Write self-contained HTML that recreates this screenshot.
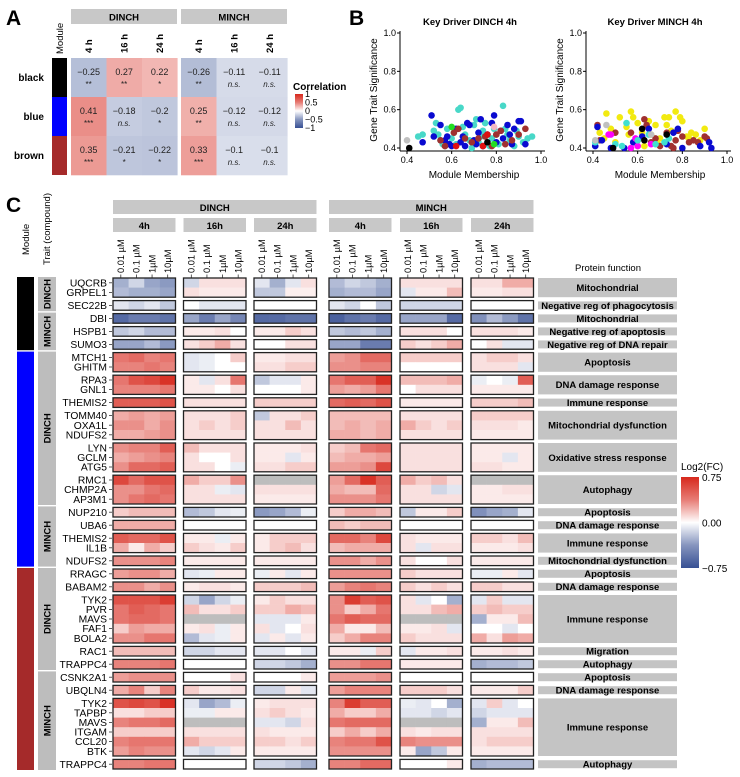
<!DOCTYPE html>
<html><head><meta charset="utf-8">
<style>
html,body{margin:0;padding:0;background:#fff;}
svg{display:block;font-family:"Liberation Sans",Arial,sans-serif;}
</style></head>
<body>
<svg id="fig" width="740" height="777" viewBox="0 0 740 777" xmlns="http://www.w3.org/2000/svg">
<text x="6" y="25" font-size="21" font-weight="bold">A</text>
<text x="349" y="25" font-size="21" font-weight="bold">B</text>
<text x="6" y="212" font-size="21" font-weight="bold">C</text>
<g id="pa"></g>
<g id="pb"></g>
<g id="pc"></g>
</svg>
<script>
// ---------- Panel A data ----------
const aModules = ['black','blue','brown'];
const aModuleColors = ['#000000','#0000ff','#a52a2a'];
const aTimes = ['4 h','16 h','24 h'];
const aCompounds = ['DINCH','MINCH'];
const aCorr = [[-0.25,0.27,0.22,-0.26,-0.11,-0.11],[0.41,-0.18,-0.2,0.25,-0.12,-0.12],[0.35,-0.21,-0.22,0.33,-0.1,-0.1]];
const aSig = [['**','**','*','**','n.s.','n.s.'],['***','n.s.','*','**','n.s.','n.s.'],['***','*','*','***','n.s.','n.s.']];
const aLegendTicks = [1,0.5,0,-0.5,-1];

// ---------- Panel B data ----------
const bAxisTicks = [0.4,0.6,0.8,1.0];
const dTurq = [[0.45,0.46],[0.47,0.47],[0.52,0.49],[0.53,0.53],[0.55,0.44],[0.56,0.42],[0.58,0.5],[0.6,0.45],[0.62,0.42],[0.63,0.6],[0.64,0.61],[0.66,0.47],[0.68,0.44],[0.7,0.52],[0.71,0.55],[0.72,0.43],[0.74,0.49],[0.75,0.53],[0.77,0.41],[0.78,0.45],[0.8,0.47],[0.81,0.42],[0.83,0.62],[0.84,0.5],[0.86,0.44],[0.88,0.41],[0.9,0.46],[0.92,0.43],[0.94,0.45],[0.96,0.46],[0.57,0.41],[0.65,0.51],[0.73,0.46],[0.79,0.5],[0.85,0.47],[0.61,0.48],[0.69,0.4],[0.76,0.42],[0.89,0.49],[0.54,0.47]];
const dBlue = [[0.47,0.43],[0.51,0.57],[0.52,0.46],[0.55,0.52],[0.57,0.44],[0.59,0.42],[0.6,0.41],[0.62,0.5],[0.64,0.43],[0.65,0.46],[0.67,0.53],[0.68,0.52],[0.7,0.44],[0.71,0.42],[0.73,0.55],[0.74,0.41],[0.76,0.47],[0.78,0.53],[0.79,0.57],[0.8,0.43],[0.82,0.49],[0.83,0.45],[0.85,0.52],[0.87,0.42],[0.88,0.5],[0.9,0.54],[0.91,0.54],[0.93,0.42],[0.66,0.41],[0.72,0.48],[0.58,0.46],[0.86,0.47]];
const dBrown = [[0.55,0.44],[0.57,0.41],[0.61,0.48],[0.63,0.5],[0.66,0.45],[0.69,0.43],[0.72,0.45],[0.75,0.46],[0.78,0.41],[0.8,0.47],[0.82,0.49],[0.84,0.42],[0.87,0.44],[0.9,0.47],[0.93,0.5]];
const dOther = [[0.6,0.51,'#22dd22'],[0.79,0.42,'#22dd22'],[0.62,0.41,'#e01010'],[0.76,0.47,'#e01010'],[0.74,0.41,'#e01010'],[0.79,0.51,'#f4b8c4'],[0.41,0.4,'#000000'],[0.76,0.43,'#000000'],[0.4,0.44,'#c0c0c0']];
const mYellow = [[0.43,0.48],[0.46,0.58],[0.48,0.5],[0.52,0.56],[0.55,0.51],[0.57,0.59],[0.58,0.56],[0.6,0.53],[0.62,0.48],[0.63,0.41],[0.65,0.54],[0.66,0.47],[0.68,0.52],[0.7,0.45],[0.72,0.56],[0.73,0.52],[0.75,0.49],[0.77,0.59],[0.79,0.56],[0.8,0.54],[0.82,0.46],[0.84,0.48],[0.86,0.47],[0.88,0.44],[0.9,0.5],[0.56,0.47],[0.6,0.41],[0.5,0.43],[0.45,0.45],[0.74,0.56],[0.69,0.42],[0.83,0.45]];
const mBrown = [[0.42,0.52],[0.43,0.44],[0.5,0.48],[0.57,0.48],[0.6,0.44],[0.63,0.55],[0.64,0.52],[0.66,0.43],[0.7,0.41],[0.73,0.48],[0.75,0.41],[0.76,0.4],[0.78,0.49],[0.8,0.46],[0.83,0.43],[0.85,0.44],[0.87,0.43],[0.9,0.46],[0.91,0.45],[0.68,0.45],[0.77,0.44]];
const mBlue = [[0.41,0.41],[0.42,0.51],[0.44,0.44],[0.48,0.4],[0.54,0.4],[0.58,0.43],[0.62,0.46],[0.65,0.5],[0.76,0.48],[0.78,0.5],[0.8,0.4],[0.88,0.41],[0.92,0.43],[0.93,0.4],[0.73,0.42]];
const mOther = [[0.47,0.47,'#ff00ff'],[0.48,0.47,'#ff00ff'],[0.57,0.4,'#ff00ff'],[0.59,0.45,'#ff00ff'],[0.66,0.42,'#ff00ff'],[0.6,0.41,'#ff00ff'],[0.41,0.43,'#40e0d0'],[0.5,0.42,'#40e0d0'],[0.53,0.41,'#40e0d0'],[0.55,0.53,'#40e0d0'],[0.6,0.44,'#40e0d0'],[0.65,0.47,'#40e0d0'],[0.68,0.42,'#40e0d0'],[0.72,0.43,'#40e0d0'],[0.74,0.45,'#40e0d0'],[0.62,0.5,'#000000'],[0.63,0.44,'#000000'],[0.73,0.47,'#000000'],[0.49,0.4,'#000000'],[0.41,0.44,'#c0c0c0'],[0.46,0.52,'#c0c0c0'],[0.66,0.47,'#c0c0c0']];

// ---------- Panel C data ----------
const cGenes = ['UQCRB','GRPEL1','SEC22B','DBI','HSPB1','SUMO3','MTCH1','GHITM','RPA3','GNL1','THEMIS2','TOMM40','OXA1L','NDUFS2','LYN','GCLM','ATG5','RMC1','CHMP2A','AP3M1','NUP210','UBA6','THEMIS2','IL1B','NDUFS2','RRAGC','BABAM2','TYK2','PVR','MAVS','FAF1','BOLA2','RAC1','TRAPPC4','CSNK2A1','UBQLN4','TYK2','TAPBP','MAVS','ITGAM','CCL20','BTK','TRAPPC4'];
const cBoxSizes = [2,1,1,1,1,2,2,1,3,3,3,1,1,2,1,1,1,5,1,1,1,1,6,1];
const cFunctions = ['Mitochondrial','Negative reg of phagocytosis','Mitochondrial','Negative reg of apoptosis','Negative reg of DNA repair','Apoptosis','DNA damage response','Immune response','Mitochondrial dysfunction','Oxidative stress response','Autophagy','Apoptosis','DNA damage response','Immune response','Mitochondrial dysfunction','Apoptosis','DNA damage response','Immune response','Migration','Autophagy','Apoptosis','DNA damage response','Immune response','Autophagy'];
const cTraitSegments = [['DINCH',0,1],['MINCH',2,4],['DINCH',5,10],['MINCH',11,14],['DINCH',15,19],['MINCH',20,23]];
const cModuleSegments = [['#000000',0,4],['#0000ff',5,14],['#a52a2a',15,23]];
const cCompounds = ['DINCH','MINCH'];
const cTimes = ['4h','16h','24h'];
const cDoses = ['0.01 \u00b5M','0.1 \u00b5M','1\u00b5M','10\u00b5M'];
const cLegendTicks = [0.75,0,-0.75];
const N = null;
// each row: D4h(4) D16h(4) D24h(4) M4h(4) M16h(4) M24h(4)
const cValues = [
[-.25,-.1,-.3,-.35, -.1,.05,.05,.05, -.05,-.25,-.05,.05, -.2,-.1,-.15,-.25, .05,.05,.05,.05, .05,.05,.2,.2],
[-.2,-.25,-.25,-.3, .05,.03,.03,.03, -.15,-.15,.02,.02, -.25,-.2,-.2,-.3, -.05,.03,.03,.15, .03,.03,.05,.05],
[-.05,-.1,-.05,-.15, 0,-.05,-.05,-.05, 0,0,0,0, -.05,-.1,0,-.15, -.1,-.1,-.1,-.1, 0,0,0,0],
[-.6,-.5,-.5,-.55, -.3,-.5,-.3,-.45, -.6,-.6,-.55,-.55, -.65,-.55,-.5,-.6, -.3,-.3,-.3,-.6, -.4,-.2,-.35,-.55],
[-.15,-.1,-.2,-.2, .03,.03,.05,0, .03,.03,.1,.05, -.15,-.2,-.15,-.25, .05,.05,.05,0, .05,.05,.05,.03],
[-.3,-.3,-.2,-.35, .05,.1,.2,.05, 0,0,.05,.05, -.3,-.3,-.5,-.5, .1,.05,.1,.2, 0,.05,-.05,-.05],
[.4,.45,.35,.4, -.05,-.03,0,.1, .03,.03,.05,.05, .25,.3,.45,.45, .1,.1,.1,.1, .05,.1,.1,.05],
[.35,.35,.4,.35, -.05,-.03,0,0, .05,.05,.1,.1, .3,.3,.35,.35, 0,0,0,0, .05,.05,.05,-.05],
[.4,.55,.6,.7, .03,-.05,.05,.4, -.15,-.05,-.05,.03, .4,.5,.5,.7, .15,.15,.15,.2, -.03,0,-.03,.5],
[.35,.35,.35,.4, .03,.03,0,.05, 0,0,0,.03, .25,.2,.25,.4, 0,.05,.05,.05, .03,.03,.03,.03],
[.5,.5,.5,.55, .05,.05,.05,.05, .1,.1,.1,.1, .45,.5,.45,.55, .03,.03,.03,.03, .1,.1,.1,.15],
[.2,.25,.2,.25, .05,.05,.05,.1, -.15,.05,.05,.1, .15,.15,.15,.15, .05,.05,.05,.05, .1,.1,.1,.1],
[.3,.3,.2,.3, .05,.1,.05,.1, .05,.05,.15,.05, .15,.2,.15,.2, .2,.1,.05,.1, .05,.05,.05,.03],
[.2,.2,.25,.3, .05,.05,.05,.05, .05,.05,.05,.05, .2,.2,.15,.2, .05,.05,.05,.05, .03,.03,.03,.03],
[.3,.35,.35,.5, .15,.05,.05,.05, .03,.03,.03,.05, .1,.15,.4,.45, .05,.05,.05,.05, .03,.03,.03,.03],
[.2,.25,.3,.35, .05,0,0,.05, .03,.03,-.05,.03, .15,.2,.2,.25, .05,.05,.05,.05, .03,.03,-.05,.03],
[.3,.45,.45,.5, .05,.05,0,-.03, .05,.05,.1,.1, .25,.25,.3,.6, .05,.05,.05,.05, .05,.05,.03,.03],
[.6,.45,.55,.55, .2,.1,.1,.3, N,N,N,N, .25,.45,.7,.5, .2,.1,.15,.05, N,N,N,N],
[.3,.3,.4,.45, .05,.05,-.03,-.05, .05,.05,.05,.05, .2,.15,.15,.45, .05,.05,-.1,-.05, .03,.03,.05,.05],
[.3,.4,.45,.4, .05,.05,.05,.05, .03,.03,.03,.03, .3,.3,.3,.4, .05,.05,.05,.05, .03,.03,.03,.03],
[.1,.15,.15,.15, -.2,-.15,-.05,-.03, -.35,-.3,-.2,-.03, .1,.2,.2,.15, -.15,.03,.03,.1, -.4,-.3,-.25,-.05],
[.2,.2,.2,.2, 0,0,0,0, 0,0,0,0, .15,.1,.15,.15, 0,0,0,0, 0,0,0,0],
[.5,.45,.45,.55, .03,.03,-.03,.03, .03,.1,.1,.1, .45,.45,.35,.6, .05,.03,.03,.03, .1,.1,.05,.15],
[.2,.03,.2,.1, .1,.05,.03,.1, .03,.1,.15,.05, .15,.2,.2,.2, .05,-.05,.05,.05, .03,.03,.03,.05],
[.3,.3,.3,.35, .03,.03,.03,.03, .03,.03,.03,.03, .3,.3,.2,.3, .05,0,0,.05, .03,.03,.03,.03],
[.25,.3,.3,.2, -.05,-.03,.03,.03, -.03,.03,-.05,.03, .3,.3,.3,.3, .1,.05,.05,.05, -.03,-.03,.03,-.05],
[.3,.3,.2,.3, .03,.05,.05,.03, .1,.1,.1,.15, .25,.35,.4,.35, .1,.05,.1,.05, .1,.1,.05,.05],
[.55,.55,.55,.65, -.1,-.3,-.1,-.03, .03,.1,.05,.05, .3,.65,.5,.55, .05,-.05,0,-.25, -.05,.1,-.05,-.05],
[.4,.5,.45,.4, .15,.05,.05,.1, .1,.1,.2,.15, .3,.1,.2,.4, .05,.05,.15,.2, .1,.15,.1,.1],
[.4,.45,.45,.4, N,N,N,N, -.05,-.05,-.05,.03, .4,.5,.45,.45, N,N,N,N, -.25,.03,.03,.15],
[.1,.25,.2,.2, .03,.05,-.03,.03, .05,-.05,0,.05, .2,.03,.03,.15, .03,.03,.05,-.05, 0,0,-.05,0],
[.3,.3,.4,.4, -.2,-.05,-.03,.03, -.05,.03,-.05,.03, .1,.2,.35,.35, .1,.05,.05,.05, .2,.05,.25,.2],
[.15,.15,.15,.15, -.1,-.1,-.05,-.05, -.05,-.05,0,-.05, .03,.03,-.03,.1, -.05,.03,.03,.05, .03,.03,.05,.03],
[.35,.35,.35,.4, 0,0,0,0, -.1,-.1,-.15,-.25, .3,.3,.4,.4, .03,.03,.03,.03, -.25,-.2,-.2,-.15],
[.25,.3,.3,.3, 0,0,0,.05, 0,0,0,.03, .25,.25,.25,.3, 0,0,0,0, 0,0,0,0],
[.2,.35,.1,.35, .1,.03,.03,.05, -.1,-.1,.03,-.05, .25,.35,.35,.35, .1,.1,.1,.05, .03,.03,.03,.1],
[.55,.6,.55,.7, -.05,-.3,-.2,-.03, .03,.05,.05,.05, .35,.65,.5,.5, -.03,-.05,0,-.25, -.05,.1,-.05,0],
[.05,.05,.1,.1, -.03,-.03,.03,.03, .05,.1,.05,.03, .2,.1,.1,.2, -.05,-.05,-.1,-.05, -.1,-.05,-.05,-.05],
[.35,.4,.4,.45, N,N,N,N, -.05,-.05,-.1,.05, .4,.45,.45,.45, N,N,N,N, -.25,.03,.03,.15],
[.1,.1,.1,.1, .05,.05,.05,.05, .05,.03,.03,.03, .1,.2,.1,.2, .05,.03,.05,.05, .05,.05,.05,.05],
[.35,.4,.4,.4, .2,.1,.1,.1, .1,.1,.05,.1, .35,.4,.4,.55, .35,.3,.3,.3, .05,.1,.1,.1],
[.25,.35,.3,.3, -.05,-.1,-.05,.03, .03,.03,.03,.03, .3,.3,.3,.3, .03,-.3,-.15,.03, .03,.03,.03,.03],
[.35,.35,.4,.4, 0,0,0,0, -.1,-.1,-.15,-.25, .35,.35,.45,.45, 0,0,0,.03, -.25,-.2,-.2,-.2]
];

const NS='http://www.w3.org/2000/svg';
function mk(tag, attrs, parent, txt){const e=document.createElementNS(NS,tag);for(const k in attrs)e.setAttribute(k,attrs[k]);if(txt!==undefined)e.textContent=txt;parent.appendChild(e);return e;}
function colorFor(v, max){
  if(v===null) return '#bdbdbd';
  let t=Math.max(-1,Math.min(1,v/max));
  const w=[255,255,255], r=[215,40,28], b=[55,80,148];
  const e=t>=0?r:b; const a=Math.pow(Math.abs(t),0.72);
  const c=w.map((x,i)=>Math.round(x+(e[i]-x)*a));
  return 'rgb('+c.join(',')+')';
}

// ================= Panel A =================
(function(){
  const g=document.getElementById('pa');
  const colX=[71,106.5,142,181,216.5,252], cw=35.3, rowY=[58,97,136], rh=39;
  aCompounds.forEach((c,i)=>{
    const x0=i?181:71;
    const s=mk('rect',{x:x0,y:9,width:106,height:15,fill:'#c8c8c8'},g);
     
    const t=mk('text',{x:x0+53,y:20.5,'font-size':9.5,'font-weight':'bold','text-anchor':'middle'},g,c);
     
  });
  const ml=mk('text',{transform:'translate(63,54) rotate(-90)','font-size':9.5},g,'Module');
   
  for(let j=0;j<6;j++){
    const cx=colX[j]+cw/2;
    const t=mk('text',{transform:'translate('+(cx+3.5)+',53) rotate(-90)','font-size':9.5,'font-weight':'bold'},g,aTimes[j%3]);
     
  }
  aModules.forEach((m,i)=>{
    const y=rowY[i];
    const bar=mk('rect',{x:52,y:y,width:15,height:rh,fill:aModuleColors[i]},g);
     
    const lab=mk('text',{x:44,y:y+rh/2+3.5,'font-size':10,'font-weight':'bold','text-anchor':'end'},g,m);
     
    for(let j=0;j<6;j++){
      const v=aCorr[i][j];
      const c=mk('rect',{x:colX[j],y:y,width:cw+0.3,height:rh+0.3,fill:colorFor(v,1)},g);
       
      const cx=colX[j]+cw/2;
      const t=mk('text',{x:cx,y:y+17,'font-size':9,'text-anchor':'middle',fill:'#222'},g,String(v).replace('-','\u2212'));
       
      const ns=aSig[i][j]==='n.s.';
      const s=mk('text',{x:cx,y:y+29,'font-size':8,'font-style':ns?'italic':'normal','text-anchor':'middle',fill:'#222'},g,aSig[i][j]);
       
    }
  });
  const lt=mk('text',{x:293,y:90,'font-size':10,'font-weight':'bold'},g,'Correlation');
   
  const defs=mk('defs',{},g);
  const lg=mk('linearGradient',{id:'gA',x1:0,y1:0,x2:0,y2:1},defs);
  [1,0.5,0,-0.5,-1].forEach((v,i)=>mk('stop',{offset:(i*25)+'%','stop-color':colorFor(v,1)},lg));
  const cb=mk('rect',{x:295,y:94,width:8,height:34,fill:'url(#gA)'},g);
   
  aLegendTicks.forEach(v=>{
    const y=94+(1-v)/2*34;
    const t=mk('text',{x:305,y:y+3,'font-size':9},g,String(v).replace('-','\u2212'));
     
  });
})();

// ================= Panel B =================
(function(){
  const g=document.getElementById('pb');
  function plot(x0x, x1x, axisX, title, series, others, cx, id){
    const sx=v=>x0x+(v-0.4)/0.6*(x1x-x0x);
    const sy=v=>148-(v-0.4)/0.6*115;
    const t=mk('text',{x:cx,y:25,'font-size':9.5,'font-weight':'bold','text-anchor':'middle'},g,title);
     
    const ya=mk('line',{x1:axisX,y1:31,x2:axisX,y2:151,stroke:'#000','stroke-width':1},g);
     
    const xa=mk('line',{x1:axisX,y1:151,x2:x1x+4,y2:151,stroke:'#000','stroke-width':1},g);
     
    bAxisTicks.forEach(v=>{
      mk('line',{x1:sx(v),y1:151,x2:sx(v),y2:154,stroke:'#000'},g);
      const tx=mk('text',{x:sx(v),y:163,'font-size':9,'text-anchor':'middle'},g,v.toFixed(1));
       
      mk('line',{x1:axisX-3,y1:sy(v),x2:axisX,y2:sy(v),stroke:'#000'},g);
      const ty=mk('text',{x:axisX-4,y:sy(v)+3,'font-size':9,'text-anchor':'end'},g,v.toFixed(1));
       
    });
    const xt=mk('text',{x:(x0x+x1x)/2,y:178,'font-size':10,'text-anchor':'middle'},g,'Module Membership');
     
    const yt=mk('text',{transform:'translate('+(axisX-23)+',90) rotate(-90)','font-size':10,'text-anchor':'middle'},g,'Gene Trait Significance');
     
    series.forEach(([pts,col])=>pts.forEach(p=>{
      const c=mk('circle',{cx:sx(p[0]),cy:sy(p[1]),r:3.3,fill:col},g);
       
    }));
    others.forEach(p=>{
      const c=mk('circle',{cx:sx(p[0]),cy:sy(p[1]),r:3.3,fill:p[2]},g);
       
    });
  }
  plot(407,541,400,'Key Driver DINCH 4h',[[dTurq,'#48d8c8'],[dBlue,'#0a0ad0'],[dBrown,'#a03030']],dOther,470,'scatter-dinch');
  plot(593,727,586,'Key Driver MINCH 4h',[[mYellow,'#f2ea10'],[mBrown,'#a03030'],[mBlue,'#0a0ad0']],mOther,655,'scatter-minch');
})();

// ================= Panel C =================
(function(){
  const g=document.getElementById('pc');
  const blockX=[113,183.5,254,329,400,471], bw=62.5, cwid=bw/4;
  const H=9.6, GAP=3.4, top=278;
  cCompounds.forEach((c,i)=>{
    const x0=blockX[i*3], x1=blockX[i*3+2]+bw;
    const s=mk('rect',{x:x0,y:200,width:x1-x0,height:14,fill:'#c8c8c8'},g);
     
    const t=mk('text',{x:(x0+x1)/2,y:211,'font-size':9.5,'font-weight':'bold','text-anchor':'middle'},g,c);
     
  });
  blockX.forEach((x,b)=>{
    const s=mk('rect',{x:x,y:218,width:bw,height:14,fill:'#c8c8c8'},g);
     
    const t=mk('text',{x:x+bw/2,y:229,'font-size':9.5,'font-weight':'bold','text-anchor':'middle'},g,cTimes[b%3]);
     
    cDoses.forEach((d,k)=>{
      const cx=x+cwid*(k+0.5);
      const t2=mk('text',{transform:'translate('+(cx+3.3)+',273) rotate(-90)','font-size':9.3},g,d);
       
      mk('line',{x1:cx,y1:274.5,x2:cx,y2:277.5,stroke:'#333','stroke-width':0.8},g);
    });
  });
  const m1=mk('text',{transform:'translate(29,255) rotate(-90)','font-size':9.5},g,'Module');
   
  const m2=mk('text',{transform:'translate(50,265) rotate(-90)','font-size':9.5},g,'Trait (compound)');
   
  const pf=mk('text',{x:608,y:271,'font-size':9.5,'text-anchor':'middle'},g,'Protein function');
   

  const boxTop=[], boxBot=[], rowTop=[];
  let y=top;
  cBoxSizes.forEach((n)=>{
    boxTop.push(y);
    for(let k=0;k<n;k++){rowTop.push(y+k*H);}
    y+=n*H; boxBot.push(y); y+=GAP;
  });
  cValues.forEach((row,ri)=>{
    const yy=rowTop[ri];
    row.forEach((v,ci)=>{
      const b=Math.floor(ci/4), k=ci%4;
      const c=mk('rect',{x:blockX[b]+k*cwid,y:yy,width:cwid+0.3,height:H+0.3,fill:colorFor(v,0.75)},g);
       
    });
    const lab=mk('text',{x:107,y:yy+H/2+3.6,'font-size':10.3,'text-anchor':'end'},g,cGenes[ri]);
     
    mk('line',{x1:109,y1:yy+H/2,x2:112,y2:yy+H/2,stroke:'#333','stroke-width':0.8},g);
  });
  cBoxSizes.forEach((n,bi)=>{
    blockX.forEach(x=>{
      const o=mk('rect',{x:x,y:boxTop[bi],width:bw,height:boxBot[bi]-boxTop[bi],fill:'none',stroke:'#222','stroke-width':1.3},g);
       
    });
    const hgt=boxBot[bi]-boxTop[bi];
    const fy=n===1?boxTop[bi]+0.8:boxTop[bi];
    const fh=n===1?hgt-1.6:hgt;
    const fr=mk('rect',{x:538,y:fy,width:139,height:fh,fill:'#c4c4c4'},g);
     
    const ft=mk('text',{x:607.5,y:boxTop[bi]+hgt/2+3.4,'font-size':9.5,'font-weight':'bold','text-anchor':'middle'},g,cFunctions[bi]);
     
  });
  cTraitSegments.forEach(([name,a,b])=>{
    const y0=boxTop[a]-1, y1=boxBot[b]+1;
    const s=mk('rect',{x:38,y:y0,width:18,height:y1-y0,fill:'#bdbdbd'},g);
     
    const t=mk('text',{transform:'translate(50.5,'+((y0+y1)/2)+') rotate(-90)','font-size':9.5,'font-weight':'bold','text-anchor':'middle'},g,name);
     
  });
  cModuleSegments.forEach(([col,a,b])=>{
    const y0=boxTop[a]-1, y1=boxBot[b]+1;
    const s=mk('rect',{x:17,y:y0,width:17,height:y1-y0,fill:col},g);
     
  });
  const lt=mk('text',{x:681,y:470,'font-size':10},g,'Log2(FC)');
   
  const defs=mk('defs',{},g);
  const lg=mk('linearGradient',{id:'gC',x1:0,y1:0,x2:0,y2:1},defs);
  [0.75,0.375,0,-0.375,-0.75].forEach((v,i)=>mk('stop',{offset:(i*25)+'%','stop-color':colorFor(v,0.75)},lg));
  const cb=mk('rect',{x:681,y:477,width:18,height:91,fill:'url(#gC)'},g);
   
  cLegendTicks.forEach(v=>{
    const yy=477+(0.75-v)/1.5*91;
    const t=mk('text',{x:702,y:yy+4,'font-size':10},g,(v<0?'\u2212':'')+Math.abs(v).toFixed(2));
     
  });
})();
</script>
</body></html>
